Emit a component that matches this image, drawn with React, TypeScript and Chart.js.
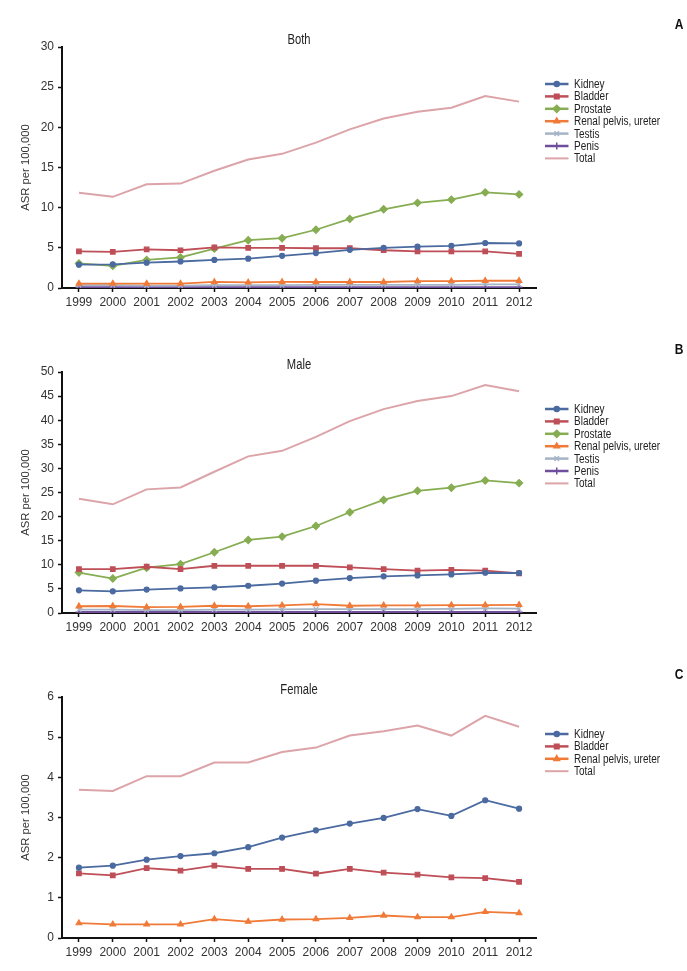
import React, { useEffect, useRef } from 'react';
import { Chart, registerables } from 'chart.js';
import { drawPoint } from 'chart.js/helpers';

Chart.register(...registerables);

// ---------- data ----------
const years = ['1999', '2000', '2001', '2002', '2003', '2004', '2005', '2006', '2007', '2008', '2009', '2010', '2011', '2012'];

const kidneyBoth = [2.9, 2.95, 3.15, 3.3, 3.5, 3.65, 4.0, 4.35, 4.75, 5.0, 5.15, 5.25, 5.6, 5.55];
const bladderBoth = [4.55, 4.5, 4.8, 4.7, 5.05, 5.0, 5.0, 4.95, 4.95, 4.7, 4.55, 4.55, 4.55, 4.25];
const prostateBoth = [3.05, 2.75, 3.5, 3.8, 4.9, 5.95, 6.2, 7.25, 8.6, 9.8, 10.6, 11.0, 11.9, 11.65];
const renalBoth = [0.55, 0.55, 0.55, 0.55, 0.75, 0.7, 0.75, 0.75, 0.75, 0.75, 0.85, 0.85, 0.9, 0.9];
const testisBoth = [0.35, 0.35, 0.3, 0.3, 0.35, 0.35, 0.35, 0.4, 0.4, 0.4, 0.4, 0.4, 0.45, 0.45];
const penisBoth = [0.1, 0.1, 0.1, 0.1, 0.1, 0.1, 0.1, 0.1, 0.1, 0.1, 0.1, 0.1, 0.1, 0.1];
const totalBoth = [11.85, 11.35, 12.9, 13.0, 14.6, 16.0, 16.7, 18.1, 19.75, 21.1, 21.95, 22.45, 23.9, 23.2];

const kidneyMale = [4.7, 4.5, 4.85, 5.1, 5.3, 5.65, 6.1, 6.7, 7.25, 7.6, 7.8, 8.0, 8.35, 8.3];
const bladderMale = [9.1, 9.1, 9.6, 9.1, 9.8, 9.8, 9.8, 9.8, 9.45, 9.1, 8.8, 8.95, 8.8, 8.2];
const prostateMale = [8.4, 7.15, 9.4, 10.15, 12.6, 15.15, 15.85, 18.05, 20.9, 23.45, 25.35, 26.0, 27.5, 26.95];
const renalMale = [1.4, 1.45, 1.2, 1.25, 1.5, 1.4, 1.6, 1.85, 1.5, 1.6, 1.6, 1.65, 1.65, 1.7];
const testisMale = [0.7, 0.7, 0.6, 0.6, 0.7, 0.7, 0.75, 0.8, 0.8, 0.8, 0.8, 0.85, 0.95, 0.9];
const penisMale = [0.2, 0.2, 0.2, 0.2, 0.2, 0.2, 0.2, 0.2, 0.2, 0.2, 0.2, 0.2, 0.2, 0.2];
const totalMale = [23.7, 22.55, 25.65, 26.05, 29.3, 32.5, 33.65, 36.55, 39.8, 42.3, 44.0, 45.0, 47.3, 46.0];

const kidneyFemale = [1.75, 1.8, 1.95, 2.04, 2.11, 2.26, 2.5, 2.68, 2.85, 2.99, 3.21, 3.04, 3.43, 3.22];
const bladderFemale = [1.61, 1.56, 1.74, 1.68, 1.8, 1.72, 1.72, 1.6, 1.72, 1.63, 1.58, 1.51, 1.49, 1.4];
const renalFemale = [0.37, 0.34, 0.34, 0.34, 0.47, 0.41, 0.46, 0.47, 0.5, 0.56, 0.52, 0.52, 0.65, 0.62];
const totalFemale = [3.69, 3.66, 4.03, 4.03, 4.37, 4.37, 4.63, 4.74, 5.04, 5.15, 5.29, 5.04, 5.53, 5.26];

const yTitle = 'ASR per 100,000';

// ---------- styles ----------
const SANS = "'Liberation Sans', Arial, sans-serif";
const SQUEEZE = 0.8; // horizontal compression to mimic the condensed face of the original

type Style = { color: string; pointStyle: any; radius: number; width: number };
const styles: Record<string, Style> = {
  Kidney: { color: '#4a6aa0', pointStyle: 'circle', radius: 2.5, width: 1.8 },
  Bladder: { color: '#be4e57', pointStyle: 'rect', radius: 3.2, width: 1.8 },
  Prostate: { color: '#86ad52', pointStyle: 'rectRot', radius: 3.6, width: 1.8 },
  'Renal pelvis, ureter': { color: '#f07a38', pointStyle: 'triangle', radius: 3.2, width: 1.8 },
  Testis: { color: '#a5b4c6', pointStyle: 'crossRot', radius: 3.2, width: 1.8 },
  Penis: { color: '#6f4f9c', pointStyle: 'cross', radius: 3.6, width: 2 },
  Total: { color: '#dca4a8', pointStyle: false, radius: 0, width: 2 },
};

type Series = { label: string; data: number[] };

function squeezedText(ctx: CanvasRenderingContext2D, text: string, x: number, y: number, align: CanvasTextAlign) {
  ctx.save();
  ctx.translate(x, y);
  ctx.scale(SQUEEZE, 1);
  ctx.textAlign = align;
  ctx.fillText(text, 0, 0);
  ctx.restore();
}

function Panel(props: { top: number; title: string; letter: string; series: Series[]; yMax: number; step: number }) {
  const ref = useRef<HTMLCanvasElement>(null);
  useEffect(() => {
    const canvas = ref.current!;
    const overlay = {
      id: 'overlay',
      afterDraw(chart: any) {
        const ctx = chart.ctx as CanvasRenderingContext2D;
        const area = chart.chartArea;
        ctx.save();
        ctx.textBaseline = 'middle';
        // panel letter
        ctx.fillStyle = '#111';
        ctx.font = `bold 15px ${SANS}`;
        squeezedText(ctx, props.letter, 679, 25, 'center');
        // panel title
        ctx.fillStyle = '#222';
        ctx.font = `14px ${SANS}`;
        squeezedText(ctx, props.title, (area.left + area.right) / 2, area.top - 7, 'center');
        // legend
        const x0 = area.right + 9;
        const lineLen = 23.5;
        ctx.font = `12.5px ${SANS}`;
        chart.data.datasets.forEach((ds: any, i: number) => {
          const st = styles[ds.label];
          const y = area.top + 37 + i * 12.4;
          ctx.strokeStyle = st.color;
          ctx.lineWidth = ds.label === 'Total' ? 2 : 2.5;
          ctx.beginPath();
          ctx.moveTo(x0, y);
          ctx.lineTo(x0 + lineLen, y);
          ctx.stroke();
          if (st.pointStyle) {
            ctx.fillStyle = st.color;
            ctx.strokeStyle = st.color;
            ctx.lineWidth = 1.5;
            drawPoint(ctx, { pointStyle: st.pointStyle, radius: st.radius, rotation: 0, borderWidth: 1.5 } as any, x0 + lineLen / 2, y);
          }
          ctx.fillStyle = '#222';
          squeezedText(ctx, ds.label, x0 + 29, y + 0.5, 'left');
        });
        ctx.restore();
      },
    };

    const chart = new Chart(canvas, {
      type: 'line',
      data: {
        labels: years,
        datasets: props.series.map((s) => {
          const st = styles[s.label];
          return {
            label: s.label,
            data: s.data,
            borderColor: st.color,
            backgroundColor: st.color,
            borderWidth: st.width,
            pointStyle: st.pointStyle,
            pointRadius: st.radius,
            pointBorderWidth: 1.2,
            pointBackgroundColor: st.color,
            pointBorderColor: st.color,
            tension: 0,
            fill: false,
          };
        }),
      },
      options: {
        responsive: false,
        animation: false,
        events: [],
        layout: { padding: { top: 47, right: 151, bottom: 2, left: 0 } },
        plugins: {
          legend: { display: false },
          tooltip: { enabled: false },
          title: { display: false },
        },
        scales: {
          x: {
            type: 'category',
            offset: true,
            afterFit: (scale: any) => {
              scale.height = 30;
            },
            grid: {
              drawOnChartArea: false,
              drawTicks: true,
              tickLength: 4,
              tickColor: '#111',
              tickWidth: 1.5,
            },
            border: { display: true, color: '#111', width: 2 },
            ticks: {
              color: '#333',
              padding: 3,
              maxRotation: 0,
              autoSkip: false,
              font: { family: SANS, size: 12 },
            },
          },
          y: {
            min: 0,
            max: props.yMax,
            afterFit: (scale: any) => {
              scale.width = 62;
            },
            grid: {
              drawOnChartArea: false,
              drawTicks: true,
              tickLength: 4,
              tickColor: '#111',
              tickWidth: 1.5,
            },
            border: { display: true, color: '#111', width: 2 },
            ticks: {
              stepSize: props.step,
              color: '#333',
              padding: 4,
              font: { family: SANS, size: 12 },
            },
            title: {
              display: true,
              text: yTitle,
              color: '#333',
              font: { family: SANS, size: 11.3, lineHeight: 1.2 },
              padding: { top: 19, bottom: 0 },
            },
          },
        },
      },
      plugins: [overlay],
    });
    return () => chart.destroy();
  }, []);
  return (
    <canvas
      ref={ref}
      width={687}
      height={320}
      style={{ position: 'absolute', left: 0, top: props.top, width: 687, height: 320, display: 'block' }}
    />
  );
}

const bothSeries: Series[] = [
  { label: 'Kidney', data: kidneyBoth },
  { label: 'Bladder', data: bladderBoth },
  { label: 'Prostate', data: prostateBoth },
  { label: 'Renal pelvis, ureter', data: renalBoth },
  { label: 'Testis', data: testisBoth },
  { label: 'Penis', data: penisBoth },
  { label: 'Total', data: totalBoth },
];
const maleSeries: Series[] = [
  { label: 'Kidney', data: kidneyMale },
  { label: 'Bladder', data: bladderMale },
  { label: 'Prostate', data: prostateMale },
  { label: 'Renal pelvis, ureter', data: renalMale },
  { label: 'Testis', data: testisMale },
  { label: 'Penis', data: penisMale },
  { label: 'Total', data: totalMale },
];
const femaleSeries: Series[] = [
  { label: 'Kidney', data: kidneyFemale },
  { label: 'Bladder', data: bladderFemale },
  { label: 'Renal pelvis, ureter', data: renalFemale },
  { label: 'Total', data: totalFemale },
];

export default function App() {
  return (
    <div style={{ position: 'absolute', left: 0, top: 0, width: 687, height: 971, background: '#fff', overflow: 'hidden' }}>
      <Panel top={0} title="Both" letter="A" series={bothSeries} yMax={30} step={5} />
      <Panel top={325} title="Male" letter="B" series={maleSeries} yMax={50} step={5} />
      <Panel top={650} title="Female" letter="C" series={femaleSeries} yMax={6} step={1} />
    </div>
  );
}
